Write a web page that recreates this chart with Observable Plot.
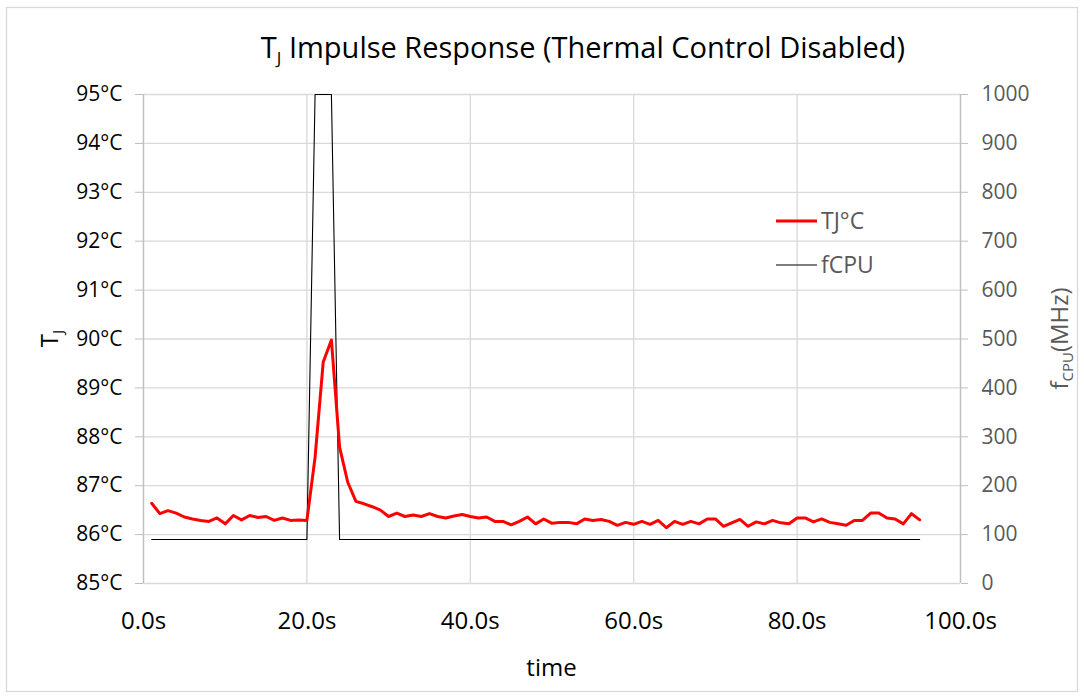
<!DOCTYPE html>
<html>
<head>
<meta charset="utf-8">
<script src="https://cdn.jsdelivr.net/npm/d3@7"></script>
<script src="https://cdn.jsdelivr.net/npm/@observablehq/plot@0.6"></script>
<style>
  html, body { margin: 0; padding: 0; background: #fff; }
  #chart { position: relative; width: 1084px; height: 698px; }
</style>
</head>
<body>
<div id="chart"></div>
<script>
// ---- data ----
const time = [1,2,3,4,5,6,7,8,9,10,11,12,13,14,15,16,17,18,19,20,
  21,22,23,24,25,26,27,28,29,30,31,32,33,34,35,36,37,38,39,40,
  41,42,43,44,45,46,47,48,49,50,51,52,53,54,55,56,57,58,59,60,
  61,62,63,64,65,66,67,68,69,70,71,72,73,74,75,76,77,78,79,80,
  81,82,83,84,85,86,87,88,89,90,91,92,93,94,95];
const tj = [86.64,86.43,86.49,86.44,86.36,86.32,86.29,86.27,86.34,86.22,
  86.39,86.30,86.39,86.35,86.37,86.29,86.34,86.29,86.30,86.29,
  87.58,89.53,89.98,87.79,87.07,86.68,86.63,86.57,86.50,86.37,
  86.44,86.37,86.40,86.37,86.43,86.37,86.34,86.38,86.41,86.37,
  86.34,86.36,86.27,86.27,86.20,86.27,86.36,86.22,86.32,86.23,
  86.25,86.25,86.22,86.32,86.29,86.31,86.27,86.19,86.25,86.21,
  86.27,86.21,86.29,86.14,86.27,86.21,86.27,86.22,86.32,86.32,
  86.17,86.24,86.31,86.17,86.26,86.22,86.29,86.24,86.22,86.34,
  86.34,86.26,86.32,86.25,86.22,86.19,86.29,86.29,86.44,86.44,
  86.34,86.32,86.22,86.43,86.30];
const fcpu = [90,90,90,90,90,90,90,90,90,90,90,90,90,90,90,90,90,90,90,90,
  1000,1000,1000,90,90,90,90,90,90,90,90,90,90,90,90,90,90,90,90,90,
  90,90,90,90,90,90,90,90,90,90,90,90,90,90,90,90,90,90,90,90,
  90,90,90,90,90,90,90,90,90,90,90,90,90,90,90,90,90,90,90,90,
  90,90,90,90,90,90,90,90,90,90,90,90,90,90,90];
const tempTicks = [85,86,87,88,89,90,91,92,93,94,95];
const freqTicks = [0,100,200,300,400,500,600,700,800,900,1000];
const timeTicks = [0,20,40,60,80,100];
const seriesNames = ["TJ°C", "fCPU"];

// fCPU shares the plot's vertical extent: 0..1000 MHz <-> 85..95 °C
const f2t = f => 85 + f / 100;

const rows = time.map((t, i) => ({t, tj: tj[i], f: fcpu[i]}));

const W = 1084, H = 698;
const mL = 143, mR = 124, mT = 94, mB = 115;
const grid = "#d9d9d9", axisGray = "#bfbfbf", textGray = "#595959";
const font = "'Open Sans', Lato, sans-serif";

const plot = Plot.plot({
  width: W, height: H,
  marginLeft: mL, marginRight: mR, marginTop: mT, marginBottom: mB,
  style: {fontFamily: font, fontSize: "21px", background: "#fff", overflow: "visible"},
  x: {domain: [0, 100]},
  y: {domain: [85, 95]},
  marks: [
    Plot.gridY(tempTicks, {stroke: grid, strokeOpacity: 1, strokeWidth: 1.3}),
    Plot.gridX(timeTicks, {stroke: grid, strokeOpacity: 1, strokeWidth: 1.3}),
    Plot.ruleX([0], {stroke: axisGray, strokeWidth: 1.3}),
    Plot.ruleX([100], {stroke: axisGray, strokeWidth: 1.3}),
    Plot.axisY(tempTicks, {anchor: "left", tickSize: 8, tickPadding: 13, stroke: axisGray, fill: "#000",
      tickFormat: d => d + "°C", label: null, fontSize: 21}),
    Plot.axisY(tempTicks, {anchor: "right", tickSize: 7, tickPadding: 14, stroke: axisGray, fill: textGray,
      tickFormat: (d, i) => String(freqTicks[i]), label: null, fontSize: 21}),
    Plot.axisX(timeTicks, {anchor: "bottom", tickSize: 0, tickPadding: 28, fill: "#000",
      tickFormat: d => d.toFixed(1) + "s", label: null, fontSize: 24}),
    Plot.line(rows, {x: "t", y: d => f2t(d.f), stroke: "#000", strokeWidth: 1.1}),
    Plot.line(rows, {x: "t", y: "tj", stroke: "#ff0000", strokeWidth: 3, strokeLinejoin: "round"})
  ]
});

document.getElementById("chart").appendChild(plot);

// ---- titles, legend, frame (added to the SVG) ----
const svg = d3.select(plot);

svg.insert("rect", ":first-child")
  .attr("x", 6.5).attr("y", 7.5).attr("width", W - 13).attr("height", H - 14)
  .attr("fill", "#fff").attr("stroke", grid).attr("stroke-width", 1.3);

// chart title
const title = svg.append("text")
  .attr("x", 583).attr("y", 58)
  .attr("text-anchor", "middle").attr("font-family", font).attr("font-size", 29).attr("fill", "#000");
title.append("tspan").text("T");
title.append("tspan").attr("font-size", 17).attr("dy", 6).text("J");
title.append("tspan").attr("dy", -6).text(" Impulse Response (Thermal Control Disabled)");

// x axis title
svg.append("text")
  .attr("x", (mL + W - mR) / 2).attr("y", 676)
  .attr("text-anchor", "middle").attr("font-family", font).attr("font-size", 24).attr("fill", "#000")
  .text("time");

// left y axis title
const cy = (mT + H - mB) / 2;
const lt = svg.append("text")
  .attr("transform", `translate(58,${cy}) rotate(-90)`)
  .attr("text-anchor", "middle").attr("font-family", font).attr("font-size", 24).attr("fill", "#000");
lt.append("tspan").text("T");
lt.append("tspan").attr("font-size", 15).attr("dy", 5).text("J");

// right y axis title
const rt = svg.append("text")
  .attr("transform", `translate(1068,${cy}) rotate(-90)`)
  .attr("text-anchor", "middle").attr("font-family", font).attr("font-size", 24).attr("fill", textGray);
rt.append("tspan").text("f");
rt.append("tspan").attr("font-size", 15).attr("dy", 5).text("CPU");
rt.append("tspan").attr("dy", -5).text("(MHz)");

// legend
const lg = svg.append("g").attr("font-family", font).attr("font-size", 23).attr("fill", textGray)
  .attr("text-anchor", "start");
const legendItems = [
  {name: seriesNames[0], color: "#ff0000", width: 3, y: 221},
  {name: seriesNames[1], color: "#000", width: 1.1, y: 265}
];
legendItems.forEach(it => {
  lg.append("line").attr("x1", 776).attr("x2", 817).attr("y1", it.y).attr("y2", it.y)
    .attr("stroke", it.color).attr("stroke-width", it.width);
  lg.append("text").attr("x", 821).attr("y", it.y).attr("dy", "0.36em").text(it.name);
});
</script>
</body>
</html>
